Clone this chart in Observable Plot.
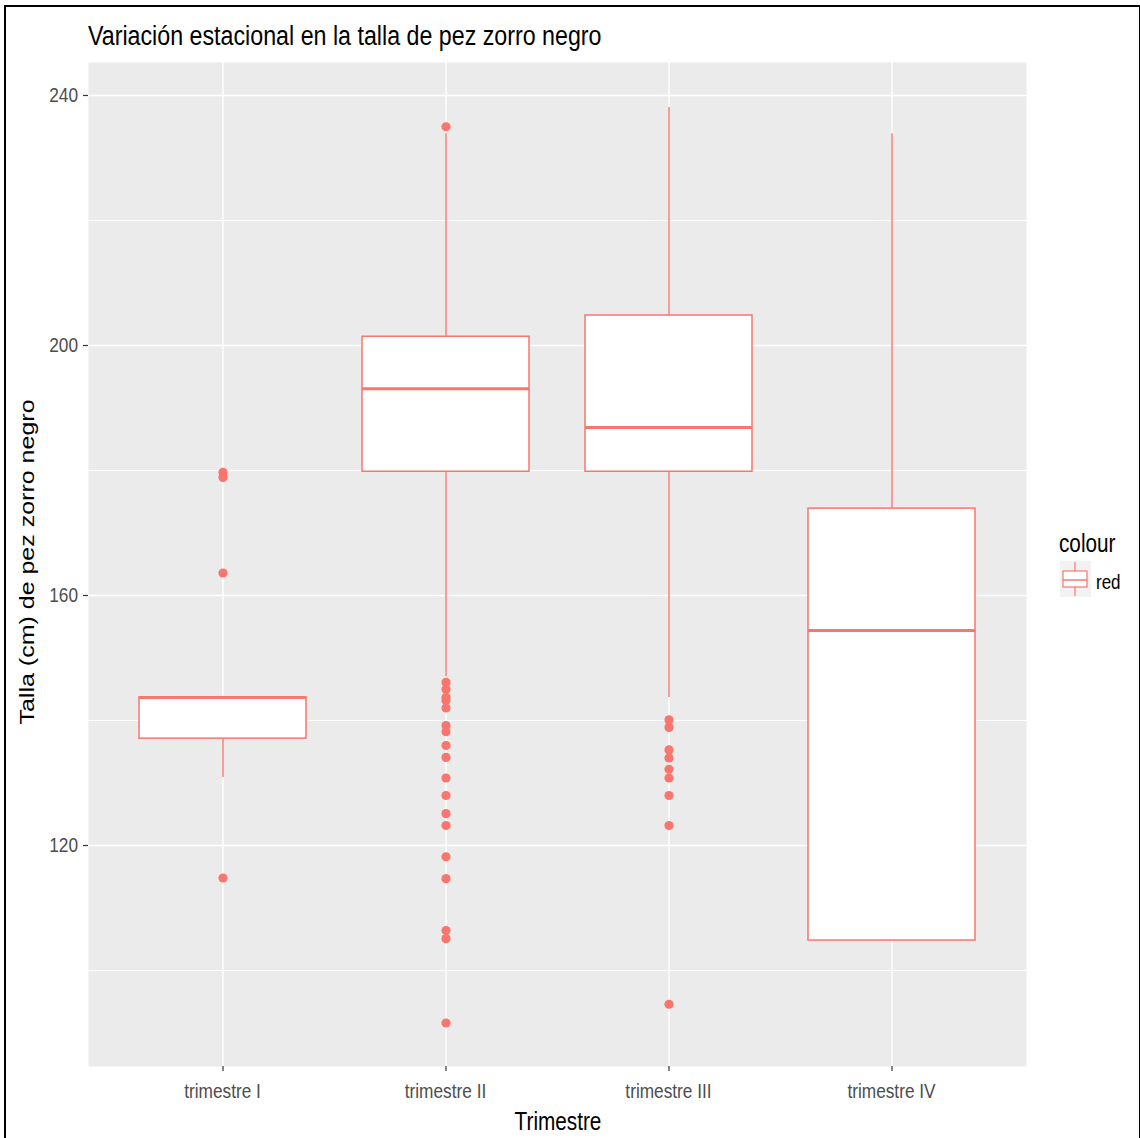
<!DOCTYPE html>
<html>
<head>
<meta charset="utf-8">
<script src="https://cdn.jsdelivr.net/npm/d3@7"></script>
<script src="https://cdn.jsdelivr.net/npm/@observablehq/plot@0.6"></script>
<style>
  html, body { margin: 0; padding: 0; background: #fff; }
  #wrap { position: relative; width: 1140px; height: 1138px; overflow: hidden; }
  #wrap > svg { position: absolute; left: 0; top: 0; }
  #frame { position: absolute; left: 4px; top: 5px; width: 1133px; height: 1140px;
           border-left: 2px solid #000; border-top: 2px solid #000; border-right: 2px solid #000; }
</style>
</head>
<body>
<div id="wrap"><div id="frame"></div></div>
<script>
// ---- data ----
const quarters = ["trimestre I", "trimestre II", "trimestre III", "trimestre IV"];
const q1Values = [137.1, 179.8, 179.8, 104.8];
const medianValues = [143.7, 193.1, 186.9, 154.4];
const q3Values = [143.7, 201.4, 204.8, 173.9];
const lowerWhisker = [130.9, 147.0, 143.7, 104.8];
const upperWhisker = [143.7, 233.9, 238.1, 233.9];
const outliersI = [179.7, 178.9, 163.6, 114.8];
const outliersII = [235.0, 146.1, 145.0, 143.7, 143.2, 142.0, 139.2, 138.2, 136.0, 134.1,
                    130.8, 128.0, 125.1, 123.2, 118.2, 114.7, 106.4, 105.1, 91.6];
const outliersIII = [140.1, 138.9, 135.3, 134.0, 132.2, 130.8, 128.0, 123.2, 94.6];
const outliersIV = [];
const majorTicks = [120, 160, 200, 240];
const minorTicks = [100, 140, 180, 220];

const titleText = "Variación estacional en la talla de pez zorro negro";
const xTitle = "Trimestre";
const yTitle = "Talla (cm) de pez zorro negro";
const legendTitle = "colour";
const legendLabel = "red";

// ---- tables ----
const boxes = quarters.map((q, i) => ({
  q, q1: q1Values[i], med: medianValues[i], q3: q3Values[i],
  lo: lowerWhisker[i], hi: upperWhisker[i]
}));
const outliers = [outliersI, outliersII, outliersIII, outliersIV]
  .flatMap((arr, i) => arr.map(v => ({q: quarters[i], v})));

const RED = "#F8766D";
const FONT = "'Liberation Sans', Arial, sans-serif";
const SX = 0.83; // horizontal squeeze of the reference's lettering

const chart = Plot.plot({
  width: 1140,
  height: 1138,
  marginLeft: 88,
  marginRight: 114,
  marginTop: 62,
  marginBottom: 72,
  style: {fontFamily: FONT, fontSize: "21px", background: "transparent"},
  x: {domain: quarters, paddingInner: 0.25, paddingOuter: 0.225, axis: null},
  y: {domain: [84.64, 245.28], axis: null},
  marks: [
    Plot.frame({fill: "#EBEBEB", stroke: "none"}),
    Plot.gridY(minorTicks, {stroke: "#FFFFFF", strokeOpacity: 1, strokeWidth: 1}),
    Plot.gridY(majorTicks, {stroke: "#FFFFFF", strokeOpacity: 1, strokeWidth: 1.6}),
    Plot.ruleX(quarters, {x: d => d, stroke: "#FFFFFF", strokeWidth: 1.4}),
    Plot.ruleX(boxes, {x: "q", y1: "lo", y2: "q1", stroke: RED, strokeWidth: 1.4}),
    Plot.ruleX(boxes, {x: "q", y1: "q3", y2: "hi", stroke: RED, strokeWidth: 1.4}),
    Plot.barY(boxes, {x: "q", y1: "q1", y2: "q3", fill: "#FFFFFF", stroke: RED, strokeWidth: 1.5}),
    Plot.tickY(boxes, {x: "q", y: "med", stroke: RED, strokeWidth: 3}),
    Plot.dot(outliers, {x: "q", y: "v", r: 4.6, fill: RED, stroke: "none"}),
    Plot.axisY(majorTicks, {tickSize: 5, tickFormat: () => "", stroke: "#333333",
                            strokeWidth: 1.2, label: null}),
    Plot.axisX({tickSize: 5, tickFormat: () => "", stroke: "#333333",
                strokeWidth: 1.2, label: null})
  ]
});
document.getElementById("wrap").appendChild(chart);
chart.querySelectorAll("text").forEach(t => { if (!t.textContent) t.remove(); });

const xs = chart.scale("x"), ys = chart.scale("y");
const xCenter = q => xs.apply(q) + xs.bandwidth / 2;

// ---- text overlay (tick labels, titles, legend) ----
const ov = d3.select("#wrap").append("svg")
  .attr("width", 1140).attr("height", 1138)
  .style("position", "absolute").style("left", 0).style("top", 0);

function squeezed(x, y, size, txt, anchor, fill) {
  return ov.append("text")
    .attr("transform", `translate(${x},${y}) scale(${SX},1)`)
    .attr("text-anchor", anchor || "start")
    .attr("font-family", FONT).attr("font-size", size).attr("fill", fill || "#000")
    .text(txt);
}

// tick labels placed through the chart's own scales
majorTicks.forEach(v => squeezed(78, ys.apply(v) + 7.4, 20.8, String(v), "end", "#4D4D4D"));
quarters.forEach(q => squeezed(xCenter(q), 1098, 20.8, q, "middle", "#4D4D4D"));

squeezed(88, 45, 28, titleText);
squeezed(558, 1130, 25, xTitle, "middle");

ov.append("text").attr("transform", `translate(34,562) rotate(-90) scale(1,${SX})`).attr("text-anchor", "middle")
  .attr("font-family", FONT).attr("font-size", 25).attr("fill", "#000")
  .text(yTitle);

// legend
squeezed(1059, 552, 25, legendTitle);
const key = ov.append("g");
key.append("rect").attr("x", 1060).attr("y", 561).attr("width", 31).attr("height", 36).attr("fill", "#F2F2F2");
key.append("line").attr("x1", 1075).attr("x2", 1075).attr("y1", 562).attr("y2", 571).attr("stroke", RED).attr("stroke-width", 1.2);
key.append("line").attr("x1", 1075).attr("x2", 1075).attr("y1", 587).attr("y2", 596).attr("stroke", RED).attr("stroke-width", 1.2);
key.append("rect").attr("x", 1063).attr("y", 571).attr("width", 24).attr("height", 16)
  .attr("fill", "#FFFFFF").attr("stroke", RED).attr("stroke-width", 1.2);
key.append("line").attr("x1", 1063).attr("x2", 1087).attr("y1", 580).attr("y2", 580).attr("stroke", RED).attr("stroke-width", 1.5);
squeezed(1096, 589, 20.5, legendLabel);
</script>
</body>
</html>
